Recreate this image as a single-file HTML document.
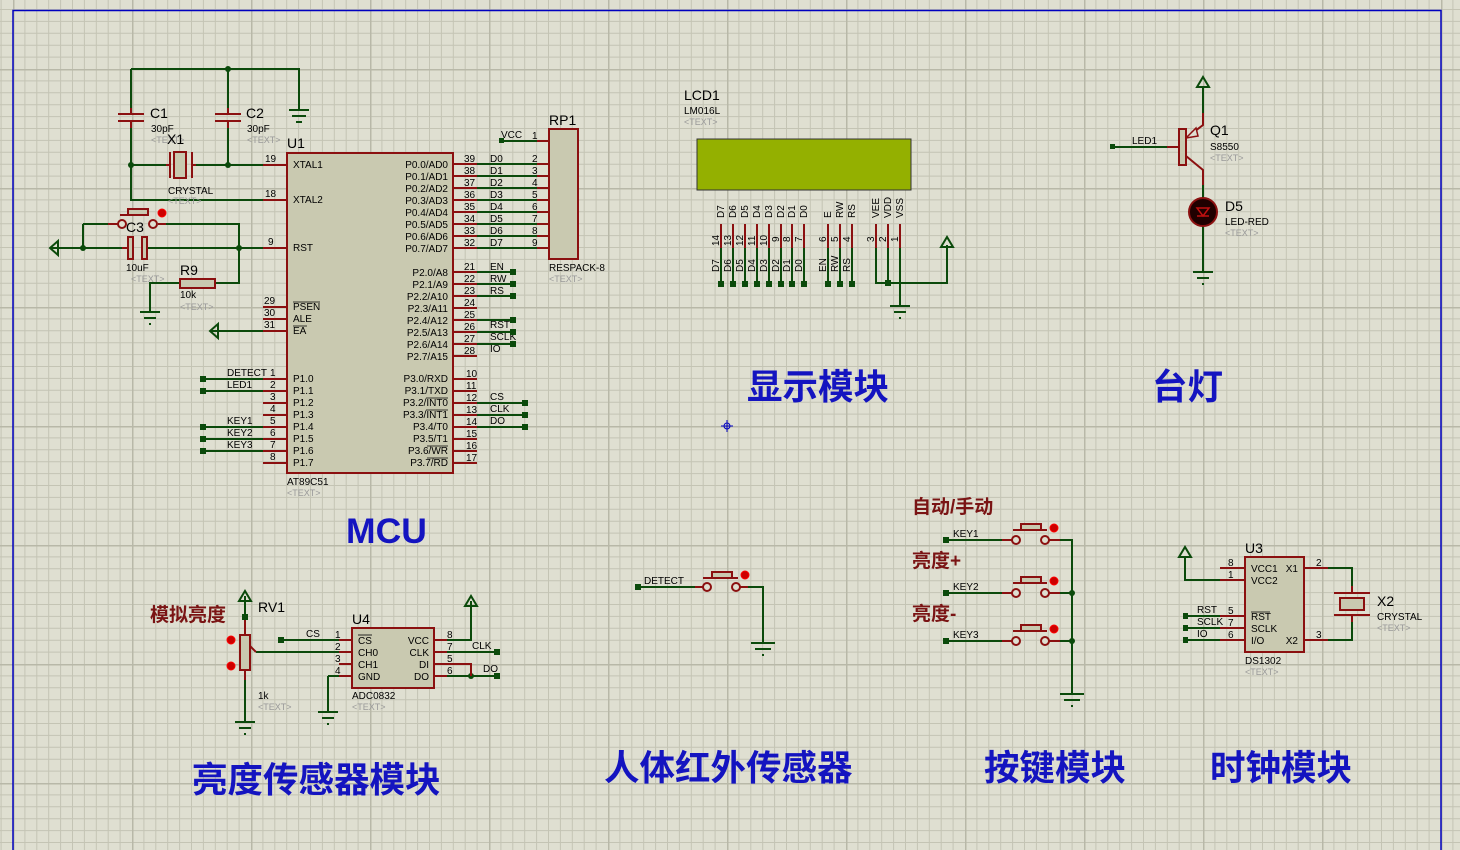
<!DOCTYPE html>
<html><head><meta charset="utf-8"><style>
html,body{margin:0;padding:0;background:#dfdfd1;}
svg{display:block;}
text{font-family:"Liberation Sans","Noto Sans CJK SC",sans-serif;}
.s{font-size:10px;fill:#000;}
.g{font-size:9px;fill:#999;}
.w{stroke:#0b4a0b;stroke-width:2;fill:none;}
.p{stroke:#8b1010;stroke-width:2;fill:none;}
.box{fill:#c9c9b0;stroke:#8b1010;stroke-width:2;}
.t{font-size:35.5px;font-weight:bold;fill:#1414c0;}
.r{font-size:19px;font-weight:bold;fill:#7a1414;}
</style></head><body>
<svg width="1460" height="850" viewBox="0 0 1460 850" xmlns="http://www.w3.org/2000/svg">
<defs>
<pattern id="grid" x="13" y="69" width="119" height="119" patternUnits="userSpaceOnUse">
<path d="M11.9 0V119M23.8 0V119M35.7 0V119M47.6 0V119M59.5 0V119M71.4 0V119M83.3 0V119M95.2 0V119M107.1 0V119M0 11.9H119M0 23.8H119M0 35.7H119M0 47.6H119M0 59.5H119M0 71.4H119M0 83.3H119M0 95.2H119M0 107.1H119" stroke="#c4c4b4" stroke-width="1"/>
<path d="M0.5 0V119M0 0.5H119" stroke="#b8b8a8" stroke-width="2"/>
</pattern>
</defs>
<rect width="1460" height="850" fill="#dfdfd1"/>
<rect width="1460" height="850" fill="url(#grid)"/>
<path d="M13 860V10.5H1441V860" stroke="#0000c0" stroke-width="1.5" fill="none"/>
<path d="M721 426H733M727 420V432" stroke="#0000c0" stroke-width="1"/><circle cx="727" cy="426" r="3" fill="none" stroke="#0000c0"/>

<path class="w" d="M131 69H299V110M131 69V108M131 128V165M228 69V108M228 128V165M131 165H166M196 165H263M131 165V200H263"/>
<path d="M289 110H309M292 116H306M296 122H302" stroke="#0b4a0b" stroke-width="2"/>
<path class="p" d="M131 108V114M118 114H144M118 121H144M131 121V128M228 108V114M215 114H241M215 121H241M228 121V128M166 165H170M170 152V178M192 152V178M192 165H196"/>
<rect x="174" y="152" width="12" height="26" fill="#c9c9b0" stroke="#8b1010" stroke-width="2"/>
<circle cx="131" cy="165" r="3" fill="#0b4a0b"/><circle cx="228" cy="165" r="3" fill="#0b4a0b"/><circle cx="228" cy="69" r="3" fill="#0b4a0b"/>
<text x="150" y="118" font-size="14">C1</text><text x="151" y="132" class="s" font-size="9">30pF</text><text x="151" y="143" class="g">&lt;TEXT&gt;</text>
<text x="246" y="118" font-size="14">C2</text><text x="247" y="132" class="s" font-size="9">30pF</text><text x="247" y="143" class="g">&lt;TEXT&gt;</text>
<text x="167" y="144" font-size="14">X1</text><text x="168" y="194" class="s" font-size="9">CRYSTAL</text><text x="168" y="204" class="g">&lt;TEXT&gt;</text>
<path class="w" d="M62 248H122M148 248H263M83 224V248M83 224H108M166 224H239V248M239 248V283H215M180 283H150V312"/>
<path d="M58 241L50 248L58 255Z" fill="none" stroke="#0b4a0b" stroke-width="2"/><path d="M50 248H62" stroke="#0b4a0b" stroke-width="2"/>
<path d="M140 312H160M144 318H156M149 324H151" stroke="#0b4a0b" stroke-width="2"/>
<path class="p" d="M108 224H118M158 224H166M122 248H128M146 248H148M120 215H148M128 210H148"/>
<rect x="128" y="209" width="20" height="6" fill="#c9c9b0" stroke="#8b1010" stroke-width="2"/>
<circle cx="122" cy="224" r="4" fill="#dfdfd1" stroke="#8b1010" stroke-width="2"/><circle cx="153" cy="224" r="4" fill="#dfdfd1" stroke="#8b1010" stroke-width="2"/>
<circle cx="162" cy="213" r="4" fill="#c00" stroke="#f00"/>
<rect x="128" y="237" width="5" height="22" fill="#c9c9b0" stroke="#8b1010" stroke-width="2"/><rect x="142" y="237" width="5" height="22" fill="#c9c9b0" stroke="#8b1010" stroke-width="2"/>
<circle cx="83" cy="248" r="3" fill="#0b4a0b"/><circle cx="239" cy="248" r="3" fill="#0b4a0b"/>
<text x="126" y="232" font-size="14">C3</text><text x="126" y="271" class="s" font-size="9">10uF</text><text x="131" y="282" class="g">&lt;TEXT&gt;</text>
<rect x="180" y="279" width="35" height="9" fill="#c9c9b0" stroke="#8b1010" stroke-width="2"/>
<text x="180" y="275" font-size="14">R9</text><text x="180" y="298" class="s" font-size="9">10k</text><text x="180" y="310" class="g">&lt;TEXT&gt;</text>
<path class="w" d="M218 331H263"/><path d="M218 324L210 331L218 338Z" fill="none" stroke="#0b4a0b" stroke-width="2"/><path d="M210 331H218" stroke="#0b4a0b" stroke-width="2"/>
<rect class="box" x="287" y="153" width="166" height="320"/>
<text x="287" y="148" font-size="14">U1</text><text x="287" y="485" class="s" font-size="9">AT89C51</text><text x="287" y="496" class="g">&lt;TEXT&gt;</text>
<path class="p" d="M263 165H287M263 200H287M263 248H287M263 307H287M263 319H287M263 331H287M263 379H287M263 391H287M263 403H287M263 415H287M263 427H287M263 439H287M263 451H287M263 463H287"/>
<path class="p" d="M453 164H477M453 176H477M453 188H477M453 200H477M453 212H477M453 224H477M453 236H477M453 248H477M453 272H477M453 284H477M453 296H477M453 308H477M453 320H477M453 332H477M453 344H477M453 356H477M453 379H477M453 391H477M453 403H477M453 415H477M453 427H477M453 439H477M453 451H477M453 463H477"/>
<g class="s" font-size="9">
<text x="265" y="162">19</text><text x="265" y="197">18</text><text x="268" y="245">9</text><text x="264" y="304">29</text><text x="264" y="316">30</text><text x="264" y="328">31</text>
<text x="270" y="376">1</text><text x="270" y="388">2</text><text x="270" y="400">3</text><text x="270" y="412">4</text><text x="270" y="424">5</text><text x="270" y="436">6</text><text x="270" y="448">7</text><text x="270" y="460">8</text>
<text x="293" y="168">XTAL1</text><text x="293" y="203">XTAL2</text><text x="293" y="251">RST</text><text x="293" y="310">PSEN</text><text x="293" y="322">ALE</text><text x="293" y="334">EA</text>
<text x="293" y="382">P1.0</text><text x="293" y="394">P1.1</text><text x="293" y="406">P1.2</text><text x="293" y="418">P1.3</text><text x="293" y="430">P1.4</text><text x="293" y="442">P1.5</text><text x="293" y="454">P1.6</text><text x="293" y="466">P1.7</text>
</g>
<path d="M293 302H320M293 326H307M426 398H448M426 410H448M427 446H448M427 458H448" stroke="#000" stroke-width="0.8"/>
<g class="s" font-size="9" text-anchor="end">
<text x="448" y="168">P0.0/AD0</text><text x="448" y="180">P0.1/AD1</text><text x="448" y="192">P0.2/AD2</text><text x="448" y="204">P0.3/AD3</text><text x="448" y="216">P0.4/AD4</text><text x="448" y="228">P0.5/AD5</text><text x="448" y="240">P0.6/AD6</text><text x="448" y="252">P0.7/AD7</text>
<text x="448" y="276">P2.0/A8</text><text x="448" y="288">P2.1/A9</text><text x="448" y="300">P2.2/A10</text><text x="448" y="312">P2.3/A11</text><text x="448" y="324">P2.4/A12</text><text x="448" y="336">P2.5/A13</text><text x="448" y="348">P2.6/A14</text><text x="448" y="360">P2.7/A15</text>
<text x="448" y="382">P3.0/RXD</text><text x="448" y="394">P3.1/TXD</text><text x="448" y="406">P3.2/INT0</text><text x="448" y="418">P3.3/INT1</text><text x="448" y="430">P3.4/T0</text><text x="448" y="442">P3.5/T1</text><text x="448" y="454">P3.6/WR</text><text x="448" y="466">P3.7/RD</text>
</g>
<g class="s" font-size="9">
<text x="464" y="162">39</text><text x="464" y="174">38</text><text x="464" y="186">37</text><text x="464" y="198">36</text><text x="464" y="210">35</text><text x="464" y="222">34</text><text x="464" y="234">33</text><text x="464" y="246">32</text>
<text x="464" y="270">21</text><text x="464" y="282">22</text><text x="464" y="294">23</text><text x="464" y="306">24</text><text x="464" y="318">25</text><text x="464" y="330">26</text><text x="464" y="342">27</text><text x="464" y="354">28</text>
<text x="466" y="377">10</text><text x="466" y="389">11</text><text x="466" y="401">12</text><text x="466" y="413">13</text><text x="466" y="425">14</text><text x="466" y="437">15</text><text x="466" y="449">16</text><text x="466" y="461">17</text>
<text x="490" y="162">D0</text><text x="490" y="174">D1</text><text x="490" y="186">D2</text><text x="490" y="198">D3</text><text x="490" y="210">D4</text><text x="490" y="222">D5</text><text x="490" y="234">D6</text><text x="490" y="246">D7</text>
<text x="490" y="270">EN</text><text x="490" y="282">RW</text><text x="490" y="294">RS</text><text x="490" y="328">RST</text><text x="490" y="340">SCLK</text><text x="490" y="352">IO</text>
<text x="490" y="400">CS</text><text x="490" y="412">CLK</text><text x="490" y="424">DO</text>
</g>
<path class="w" d="M477 164H537M477 176H537M477 188H537M477 200H537M477 212H537M477 224H537M477 236H537M477 248H537M477 272H513M477 284H513M477 296H513M477 320H513M477 332H513M477 344H513M477 403H525M477 415H525M477 427H525M501 141H537"/>
<g fill="#0b4a0b"><rect x="510" y="269" width="6" height="6"/><rect x="510" y="281" width="6" height="6"/><rect x="510" y="293" width="6" height="6"/><rect x="510" y="317" width="6" height="6"/><rect x="510" y="329" width="6" height="6"/><rect x="510" y="341" width="6" height="6"/><rect x="522" y="400" width="6" height="6"/><rect x="522" y="412" width="6" height="6"/><rect x="522" y="424" width="6" height="6"/><rect x="499" y="138" width="5" height="5"/></g>
<path class="w" d="M203 379H263M203 391H263M203 427H263M203 439H263M203 451H263"/>
<g fill="#0b4a0b"><rect x="200" y="376" width="6" height="6"/><rect x="200" y="388" width="6" height="6"/><rect x="200" y="424" width="6" height="6"/><rect x="200" y="436" width="6" height="6"/><rect x="200" y="448" width="6" height="6"/></g>
<g class="s" font-size="9"><text x="227" y="376">DETECT</text><text x="227" y="388">LED1</text><text x="227" y="424">KEY1</text><text x="227" y="436">KEY2</text><text x="227" y="448">KEY3</text></g>
<path class="p" d="M537 141H549M537 164H549M537 176H549M537 188H549M537 200H549M537 212H549M537 224H549M537 236H549M537 248H549"/>
<rect class="box" x="549" y="129" width="29" height="130"/>
<text x="549" y="125" font-size="14">RP1</text><text x="549" y="271" class="s" font-size="9">RESPACK-8</text><text x="549" y="282" class="g">&lt;TEXT&gt;</text>
<g class="s" font-size="9"><text x="501" y="138">VCC</text><text x="532" y="139">1</text><text x="532" y="162">2</text><text x="532" y="174">3</text><text x="532" y="186">4</text><text x="532" y="198">5</text><text x="532" y="210">6</text><text x="532" y="222">7</text><text x="532" y="234">8</text><text x="532" y="246">9</text></g>
<text x="346" y="543" class="t">MCU</text>

<text x="684" y="100" font-size="14">LCD1</text><text x="684" y="114" class="s" font-size="9">LM016L</text><text x="684" y="125" class="g">&lt;TEXT&gt;</text>
<rect x="697" y="139" width="214" height="51" fill="#94b000" stroke="#333" stroke-width="1"/>
<path class="p" d="M721 224V248M733 224V248M745 224V248M757 224V248M769 224V248M781 224V248M792 224V248M804 224V248M828 224V248M840 224V248M852 224V248M876 224V248M888 224V248M900 224V248"/>
<path class="w" d="M721 248V284M733 248V284M745 248V284M757 248V284M769 248V284M781 248V284M792 248V284M804 248V284M828 248V284M840 248V284M852 248V284M876 248V283H947V245M888 248V283M900 248V306"/>
<path d="M941 247L947 237L953 247Z" fill="none" stroke="#0b4a0b" stroke-width="2"/>
<path d="M890 306H910M894 312H906M899 318H901" stroke="#0b4a0b" stroke-width="2"/>
<g fill="#0b4a0b"><rect x="718" y="281" width="6" height="6"/><rect x="730" y="281" width="6" height="6"/><rect x="742" y="281" width="6" height="6"/><rect x="754" y="281" width="6" height="6"/><rect x="766" y="281" width="6" height="6"/><rect x="778" y="281" width="6" height="6"/><rect x="789" y="281" width="6" height="6"/><rect x="801" y="281" width="6" height="6"/><rect x="825" y="281" width="6" height="6"/><rect x="837" y="281" width="6" height="6"/><rect x="849" y="281" width="6" height="6"/><rect x="885" y="280" width="6" height="6"/></g>
<g class="s" font-size="9">
<text transform="translate(724,218) rotate(-90)">D7</text><text transform="translate(736,218) rotate(-90)">D6</text><text transform="translate(748,218) rotate(-90)">D5</text><text transform="translate(760,218) rotate(-90)">D4</text><text transform="translate(772,218) rotate(-90)">D3</text><text transform="translate(784,218) rotate(-90)">D2</text><text transform="translate(795,218) rotate(-90)">D1</text><text transform="translate(807,218) rotate(-90)">D0</text>
<text transform="translate(831,218) rotate(-90)">E</text><text transform="translate(843,218) rotate(-90)">RW</text><text transform="translate(855,218) rotate(-90)">RS</text>
<text transform="translate(879,218) rotate(-90)">VEE</text><text transform="translate(891,218) rotate(-90)">VDD</text><text transform="translate(903,218) rotate(-90)">VSS</text>
<text transform="translate(719,246) rotate(-90)">14</text><text transform="translate(731,246) rotate(-90)">13</text><text transform="translate(743,246) rotate(-90)">12</text><text transform="translate(755,246) rotate(-90)">11</text><text transform="translate(767,246) rotate(-90)">10</text><text transform="translate(779,242) rotate(-90)">9</text><text transform="translate(790,242) rotate(-90)">8</text><text transform="translate(802,242) rotate(-90)">7</text>
<text transform="translate(826,242) rotate(-90)">6</text><text transform="translate(838,242) rotate(-90)">5</text><text transform="translate(850,242) rotate(-90)">4</text><text transform="translate(874,242) rotate(-90)">3</text><text transform="translate(886,242) rotate(-90)">2</text><text transform="translate(898,242) rotate(-90)">1</text>
<text transform="translate(719,272) rotate(-90)">D7</text><text transform="translate(731,272) rotate(-90)">D6</text><text transform="translate(743,272) rotate(-90)">D5</text><text transform="translate(755,272) rotate(-90)">D4</text><text transform="translate(767,272) rotate(-90)">D3</text><text transform="translate(779,272) rotate(-90)">D2</text><text transform="translate(790,272) rotate(-90)">D1</text><text transform="translate(802,272) rotate(-90)">D0</text>
<text transform="translate(826,272) rotate(-90)">EN</text><text transform="translate(838,272) rotate(-90)">RW</text><text transform="translate(850,272) rotate(-90)">RS</text>
</g>
<text x="747" y="399" class="t">显示模块</text>

<path class="w" d="M1113 147H1167M1203 113V86M1203 185V210M1203 226V272"/>
<rect x="1110" y="144" width="5" height="5" fill="#0b4a0b"/>
<path d="M1197 87L1203 77L1209 87Z" fill="none" stroke="#0b4a0b" stroke-width="2"/>
<path d="M1193 272H1213M1197 278H1209M1202 284H1204" stroke="#0b4a0b" stroke-width="2"/>
<path class="p" d="M1167 147H1179M1186 138L1203 125V113M1186 156L1203 170V185"/>
<path d="M1186 138L1196 128L1198 136Z" fill="#dfdfd1" stroke="#8b1010" stroke-width="1.5"/>
<rect x="1179" y="129" width="7" height="36" fill="#c9c9b0" stroke="#8b1010" stroke-width="2"/>
<circle cx="1203" cy="212" r="14" fill="#200000" stroke="#8b1010" stroke-width="2"/>
<path d="M1197 208H1209L1203 216ZM1197 216H1209" fill="none" stroke="#c01010" stroke-width="1.5"/>
<text x="1210" y="135" font-size="14">Q1</text><text x="1210" y="150" class="s" font-size="9">S8550</text><text x="1210" y="161" class="g">&lt;TEXT&gt;</text>
<text x="1132" y="144" class="s" font-size="9">LED1</text>
<text x="1225" y="211" font-size="14">D5</text><text x="1225" y="225" class="s" font-size="9">LED-RED</text><text x="1225" y="236" class="g">&lt;TEXT&gt;</text>
<text x="1152" y="399" class="t">台灯</text>

<text x="150" y="621" class="r">模拟亮度</text>
<path class="w" d="M245 596V615M245 680V722M281 640H339M256 652H339M328 676H339M328 676V712M434 640H471V601M471 664H471V676M434 676H497M434 652H497"/>
<path d="M239 601L245 591L251 601Z" fill="none" stroke="#0b4a0b" stroke-width="2"/>
<rect x="242" y="614" width="6" height="6" fill="#0b4a0b"/>
<rect x="278" y="637" width="6" height="6" fill="#0b4a0b"/><rect x="494" y="649" width="6" height="6" fill="#0b4a0b"/><rect x="494" y="673" width="6" height="6" fill="#0b4a0b"/><circle cx="471" cy="676" r="3" fill="#0b4a0b"/>
<path class="p" d="M245 620V635M245 670V680M250 646L256 652M434 664H471V676"/>
<rect x="240" y="635" width="10" height="35" fill="#c9c9b0" stroke="#8b1010" stroke-width="2"/>
<circle cx="231" cy="640" r="4" fill="#c00" stroke="#f00"/><circle cx="231" cy="666" r="4" fill="#c00" stroke="#f00"/>
<path d="M235 722H255M239 728H251M244 734H246M318 712H338M322 718H334M327 724H329" stroke="#0b4a0b" stroke-width="2"/>
<path d="M465 606L471 596L477 606Z" fill="none" stroke="#0b4a0b" stroke-width="2"/>
<text x="258" y="612" font-size="14">RV1</text><text x="258" y="699" class="s" font-size="9">1k</text><text x="258" y="710" class="g">&lt;TEXT&gt;</text>
<path class="p" d="M339 640H352M339 652H352M339 664H352M339 676H352M434 640H447M434 652H447M434 664H447M434 676H447"/>
<rect class="box" x="352" y="628" width="82" height="60"/>
<text x="352" y="624" font-size="14">U4</text><text x="352" y="699" class="s" font-size="9">ADC0832</text><text x="352" y="710" class="g">&lt;TEXT&gt;</text>
<g class="s" font-size="9"><text x="306" y="637">CS</text><text x="335" y="638">1</text><text x="335" y="650">2</text><text x="335" y="662">3</text><text x="335" y="674">4</text>
<text x="358" y="644">CS</text><text x="358" y="656">CH0</text><text x="358" y="668">CH1</text><text x="358" y="680">GND</text>
<text x="429" y="644" text-anchor="end">VCC</text><text x="429" y="656" text-anchor="end">CLK</text><text x="429" y="668" text-anchor="end">DI</text><text x="429" y="680" text-anchor="end">DO</text>
<text x="447" y="638">8</text><text x="447" y="650">7</text><text x="447" y="662">5</text><text x="447" y="674">6</text><text x="472" y="649">CLK</text><text x="483" y="672">DO</text></g>
<path d="M358 635H372" stroke="#000" stroke-width="0.8"/>
<text x="192" y="792" class="t">亮度传感器模块</text>

<path class="w" d="M638 587H695M748 587H763V643"/>
<rect x="635" y="584" width="6" height="6" fill="#0b4a0b"/>
<path class="p" d="M695 587H703M740 587H748M703 578H738"/>
<rect x="712" y="572" width="20" height="6" fill="#c9c9b0" stroke="#8b1010" stroke-width="2"/>
<circle cx="707" cy="587" r="4" fill="#dfdfd1" stroke="#8b1010" stroke-width="2"/><circle cx="736" cy="587" r="4" fill="#dfdfd1" stroke="#8b1010" stroke-width="2"/>
<circle cx="745" cy="575" r="4" fill="#c00" stroke="#f00"/>
<path d="M751 643H775M755 649H771M762 655H764" stroke="#0b4a0b" stroke-width="2"/>
<text x="644" y="584" class="s" font-size="9">DETECT</text>
<text x="604" y="780" class="t">人体红外传感器</text>

<text x="912" y="513" class="r" font-size="18">自动/手动</text><text x="912" y="567" class="r" font-size="18">亮度+</text><text x="912" y="620" class="r" font-size="18">亮度-</text>
<path class="w" d="M946 540H1002M1060 540H1072V694M946 593H1002M1060 593H1072M946 641H1002M1060 641H1072"/>
<g fill="#0b4a0b"><rect x="943" y="537" width="6" height="6"/><rect x="943" y="590" width="6" height="6"/><rect x="943" y="638" width="6" height="6"/><circle cx="1072" cy="593" r="3"/><circle cx="1072" cy="641" r="3"/></g>
<path d="M1060 694H1084M1064 700H1080M1071 706H1073" stroke="#0b4a0b" stroke-width="2"/>
<g class="p"><path d="M1002 540H1012M1049 540H1060M1013 530H1047M1002 593H1012M1049 593H1060M1013 583H1047M1002 641H1012M1049 641H1060M1013 631H1047"/></g>
<g fill="#c9c9b0" stroke="#8b1010" stroke-width="2"><rect x="1021" y="524" width="20" height="6"/><rect x="1021" y="577" width="20" height="6"/><rect x="1021" y="625" width="20" height="6"/></g>
<g fill="#dfdfd1" stroke="#8b1010" stroke-width="2"><circle cx="1016" cy="540" r="4"/><circle cx="1045" cy="540" r="4"/><circle cx="1016" cy="593" r="4"/><circle cx="1045" cy="593" r="4"/><circle cx="1016" cy="641" r="4"/><circle cx="1045" cy="641" r="4"/></g>
<g fill="#c00" stroke="#f00"><circle cx="1054" cy="528" r="4"/><circle cx="1054" cy="581" r="4"/><circle cx="1054" cy="629" r="4"/></g>
<g class="s" font-size="9"><text x="953" y="537">KEY1</text><text x="953" y="590">KEY2</text><text x="953" y="638">KEY3</text></g>
<text x="984" y="780" class="t">按键模块</text>

<path class="w" d="M1232 580H1185V556M1185 616H1232M1185 628H1232M1185 640H1232M1328 568H1352V586M1352 622V640H1328"/>
<path d="M1179 557L1185 547L1191 557Z" fill="none" stroke="#0b4a0b" stroke-width="2"/>
<g fill="#0b4a0b"><rect x="1183" y="613" width="5" height="6"/><rect x="1183" y="625" width="5" height="6"/><rect x="1183" y="637" width="5" height="6"/></g>
<path class="p" d="M1220 568H1245M1220 580H1245M1220 616H1245M1220 628H1245M1220 640H1245M1304 568H1328M1304 640H1328M1352 586V593M1352 615V622M1334 593H1370M1334 615H1370"/>
<rect class="box" x="1245" y="557" width="59" height="95"/>
<rect x="1340" y="598" width="24" height="12" fill="#c9c9b0" stroke="#8b1010" stroke-width="2"/>
<text x="1245" y="553" font-size="14">U3</text><text x="1245" y="664" class="s" font-size="9">DS1302</text><text x="1245" y="675" class="g">&lt;TEXT&gt;</text>
<text x="1377" y="606" font-size="14">X2</text><text x="1377" y="620" class="s" font-size="9">CRYSTAL</text><text x="1377" y="631" class="g">&lt;TEXT&gt;</text>
<g class="s" font-size="9"><text x="1228" y="566">8</text><text x="1228" y="578">1</text><text x="1228" y="614">5</text><text x="1228" y="626">7</text><text x="1228" y="638">6</text>
<text x="1197" y="613">RST</text><text x="1197" y="625">SCLK</text><text x="1197" y="637">IO</text>
<text x="1251" y="572">VCC1</text><text x="1251" y="584">VCC2</text><text x="1251" y="620">RST</text><text x="1251" y="632">SCLK</text><text x="1251" y="644">I/O</text>
<text x="1298" y="572" text-anchor="end">X1</text><text x="1298" y="644" text-anchor="end">X2</text><text x="1316" y="566">2</text><text x="1316" y="638">3</text></g>
<path d="M1251 612H1270" stroke="#000" stroke-width="0.8"/>
<text x="1210" y="780" class="t">时钟模块</text>
</svg>
</body></html>
